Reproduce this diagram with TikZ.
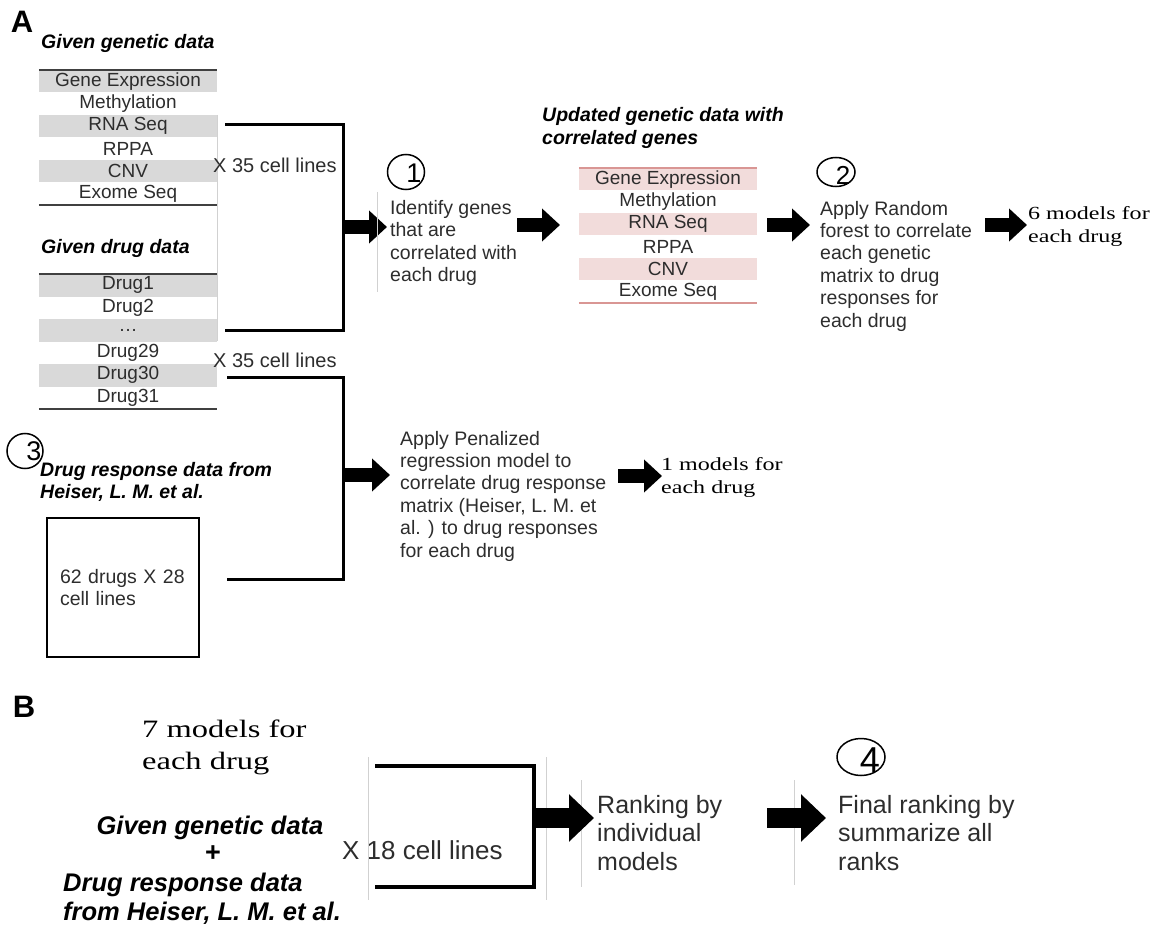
\documentclass[tikz,border=0pt]{standalone}
\usepackage{fontspec}
\setmainfont{Liberation Sans}
\newfontfamily\modelfont[FakeStretch=1.3]{Liberation Serif}
\usetikzlibrary{arrows.meta,shapes.geometric}
\definecolor{rowgray}{RGB}{217,217,217}
\definecolor{rowpink}{RGB}{242,220,219}
\definecolor{linepink}{RGB}{217,150,148}
\definecolor{inkgray}{RGB}{45,45,45}
\begin{document}
\begin{tikzpicture}[x=1pt,y=-1pt,
    body/.style={font=\fontsize{19.5}{22.4}\selectfont,text=inkgray,inner sep=0pt,align=left,anchor=west},
    bigbody/.style={font=\fontsize{25}{28.5}\selectfont,text=inkgray,inner sep=0pt,align=left,anchor=west},
    head/.style={font=\fontsize{19.5}{22.5}\selectfont\bfseries\itshape,inner sep=0pt,align=left,anchor=west},
    bighead/.style={font=\fontsize{25.5}{29}\selectfont\bfseries\itshape,inner sep=0pt},
    row/.style={font=\fontsize{19}{22}\selectfont,text=inkgray,inner sep=0pt,minimum width=178pt,minimum height=22.5pt},
    models/.style={font=\modelfont\fontsize{18.5}{23}\selectfont,inner sep=0pt,align=left,anchor=west},
    stepnum/.style={ellipse,draw,line width=1.5pt,inner sep=0pt},
    digit/.style={font=\fontsize{27}{27}\selectfont,inner sep=0pt},
    bracket/.style={line width=3pt},
    blockarrow/.style={line width=14pt,-{Triangle[length=18pt,width=32pt]}},
    bigarrow/.style={line width=20pt,-{Triangle[length=25pt,width=46pt]}},
    guide/.style={draw=black!18,line width=0.8pt},
    tabline/.style={line width=1.5pt,draw=black!75}]
    \useasboundingbox (0,0) rectangle (1157,928);

    % panel A
    \node[font=\fontsize{31}{31}\selectfont\bfseries] (lblA) at (22,22) {A};
    \node[head] (gen) at (41,43) {Given genetic data};
    \foreach \t [count=\i] in {Gene Expression,Methylation,RNA Seq,RPPA,CNV,Exome Seq}{
        \ifodd\i \def\rowfill{rowgray}\else\def\rowfill{white}\fi
        \node[row,fill=\rowfill] (g\i) at (128,{81.25+22.5*(\i-1)}) {\t};
    }
    \draw[tabline] (g1.north west) -- (g1.north east);
    \draw[tabline] (g6.south west) -- (g6.south east);

    \node[head] (drg) at (41,248) {Given drug data};
    \foreach \t [count=\i] in {Drug1,Drug2,{\ldots},Drug29,Drug30,Drug31}{
        \ifodd\i \def\rowfill{rowgray}\else\def\rowfill{white}\fi
        \node[row,fill=\rowfill] (d\i) at (128,{285.25+22.5*(\i-1)}) {\t};
    }
    \draw[tabline] (d1.north west) -- (d1.north east);
    \draw[tabline] (d6.south west) -- (d6.south east);
    \draw[guide] (217,115) -- (217,341);

    \node[body,font=\fontsize{20}{22}\selectfont] (x1) at (213,165) {X 35 cell lines};
    \node[body,font=\fontsize{20}{22}\selectfont] (x2) at (213,360) {X 35 cell lines};

    \coordinate (b1t) at (225,125);
    \coordinate (b1m) at (343,227);
    \coordinate (b1b) at (225,330);
    \draw[bracket] (b1t) -| (b1m) |- (b1b);
    \coordinate (a1) at (387,227);
    \draw[blockarrow] (b1m) -- (a1);

    \node[stepnum,minimum width=37pt,minimum height=35pt] (c1) at (406,172) {};
    \node[digit] (n1) at (414,173) {1};
    \draw[guide] (377,192) -- (377,292);
    \node[body] (ident) at (390,243) {Identify genes\\that are\\correlated with\\each drug};

    \coordinate (a2s) at (517,225);
    \coordinate (a2) at (560,225);
    \draw[blockarrow] (a2s) -- (a2);

    \node[head] (upd) at (542,128) {Updated genetic data with\\correlated genes};
    \foreach \t [count=\i] in {Gene Expression,Methylation,RNA Seq,RPPA,CNV,Exome Seq}{
        \ifodd\i \def\rowfill{rowpink}\else\def\rowfill{white}\fi
        \node[row,fill=\rowfill] (u\i) at (668,{179.25+22.5*(\i-1)}) {\t};
    }
    \draw[tabline,draw=linepink] (u1.north west) -- (u1.north east);
    \draw[tabline,draw=linepink] (u6.south west) -- (u6.south east);

    \coordinate (a3s) at (767,225);
    \coordinate (a3) at (810,225);
    \draw[blockarrow] (a3s) -- (a3);

    \node[stepnum,minimum width=38pt,minimum height=29pt] (c2) at (836,172) {};
    \node[digit,font=\fontsize{26}{26}\selectfont] (n2) at (843,175) {2};
    \node[body] (rf) at (820,266) {Apply Random\\forest to correlate\\each genetic\\matrix to drug\\responses for\\each drug};

    \coordinate (a4s) at (985,225);
    \coordinate (a4) at (1027,225);
    \draw[blockarrow] (a4s) -- (a4);
    \node[models] (m6) at (1028,226) {6 models for\\each drug};

    % penalized regression branch
    \node[stepnum,minimum width=36pt,minimum height=35pt] (c3) at (25,451) {};
    \node[digit] (n3) at (34,451) {3};
    \node[head] (heis) at (40,482) {Drug response data from\\Heiser, L. M. et al.};
    \node[draw,line width=2pt,minimum width=152pt,minimum height=139pt,
          font=\fontsize{19.5}{22.4}\selectfont,text=inkgray,align=left,text width=126pt] (hbox) at (123,587.5)
          {62 drugs X 28\\cell lines};

    \coordinate (b2t) at (227,377);
    \coordinate (b2m) at (343,475);
    \coordinate (b2b) at (227,579);
    \draw[bracket] (b2t) -| (b2m) |- (b2b);
    \coordinate (a5) at (390,475);
    \draw[blockarrow] (b2m) -- (a5);
    \node[body] (pen) at (400,496) {Apply Penalized\\regression model to\\correlate drug response\\matrix (Heiser, L. M. et\\al. ) to drug responses\\for each drug};

    \coordinate (a6s) at (618,476);
    \coordinate (a6) at (662,476);
    \draw[blockarrow] (a6s) -- (a6);
    \node[models] (m1) at (661,477) {1 models for\\each drug};

    % panel B
    \node[font=\fontsize{31}{31}\selectfont\bfseries] (lblB) at (24,707) {B};
    \node[models,font=\modelfont\fontsize{25}{32}\selectfont] (m7) at (142,747) {7 models for\\each drug};
    \node[bighead] (gen2) at (210,828) {Given genetic data};
    \node[font=\fontsize{27}{27}\selectfont\bfseries,inner sep=0pt] (plus) at (213,854) {+};
    \node[bighead,align=left,anchor=west] (heis2) at (63,899) {Drug response data\\from Heiser, L. M. et al.};
    \node[bigbody,font=\fontsize{26}{29}\selectfont] (x3) at (342,850) {X 18 cell lines};

    \draw[guide] (368,757) -- (368,900);
    \draw[guide] (546,757) -- (546,900);
    \draw[guide] (581,780) -- (581,887);
    \draw[guide] (794,780) -- (794,885);

    \coordinate (b3t) at (375,766);
    \coordinate (b3m) at (534,818);
    \coordinate (b3b) at (375,887);
    \draw[bracket,line width=4pt] (b3t) -| (b3m) |- (b3b);
    \coordinate (a7) at (594,818);
    \draw[bigarrow] (b3m) -- (a7);
    \node[bigbody] (rank) at (597,833) {Ranking by\\individual\\models};

    \coordinate (a8s) at (767,818);
    \coordinate (a8) at (826,818);
    \draw[bigarrow] (a8s) -- (a8);
    \node[stepnum,minimum width=48pt,minimum height=37pt] (c4) at (861,757) {};
    \node[digit,font=\fontsize{36}{36}\selectfont] (n4) at (870,760) {4};
    \node[bigbody] (final) at (838,833) {Final ranking by\\summarize all\\ranks};
\end{tikzpicture}
\end{document}
